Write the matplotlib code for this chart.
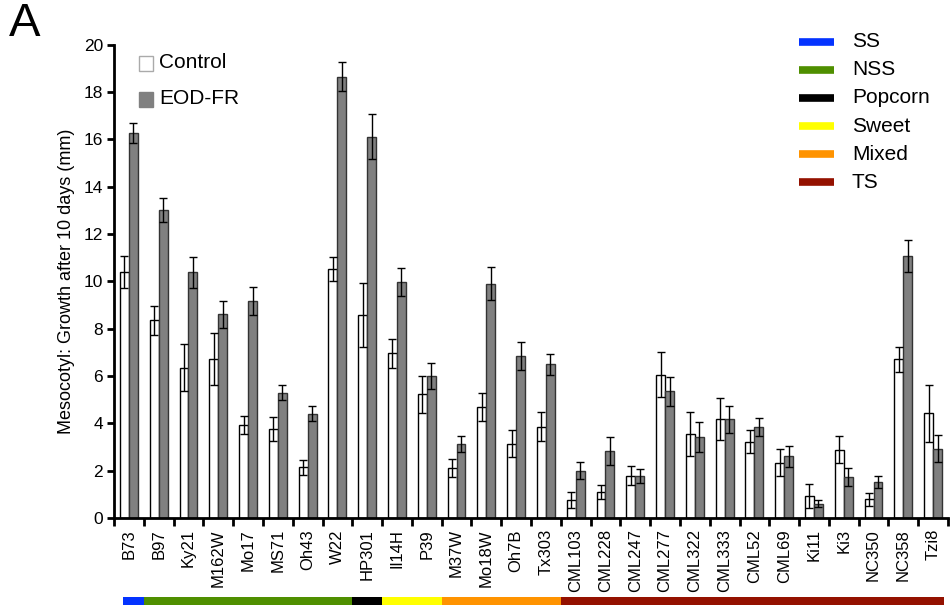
import matplotlib
matplotlib.use('Agg')
import matplotlib.pyplot as plt
from matplotlib.patches import Rectangle
from matplotlib.lines import Line2D
import numpy as np

plt.rcParams['font.family'] = ['Liberation Sans', 'DejaVu Sans']

# inbred lines
lines = ['B73', 'B97', 'Ky21', 'M162W', 'Mo17', 'MS71', 'Oh43', 'W22', 'HP301',
         'Il14H', 'P39', 'M37W', 'Mo18W', 'Oh7B', 'Tx303', 'CML103', 'CML228',
         'CML247', 'CML277', 'CML322', 'CML333', 'CML52', 'CML69', 'Ki11', 'Ki3',
         'NC350', 'NC358', 'Tzi8']

control = [10.4, 8.35, 6.35, 6.7, 3.92, 3.75, 2.14, 10.53, 8.56,
           6.96, 5.22, 2.13, 4.7, 3.14, 3.86, 0.75, 1.09,
           1.79, 6.06, 3.55, 4.18, 3.22, 2.34, 0.94, 2.89,
           0.79, 6.7, 4.42]
control_err = [0.68, 0.6, 1.0, 1.1, 0.38, 0.5, 0.31, 0.5, 1.35,
               0.62, 0.8, 0.38, 0.6, 0.58, 0.62, 0.34, 0.3,
               0.39, 0.94, 0.92, 0.89, 0.48, 0.56, 0.5, 0.57,
               0.27, 0.53, 1.2]

eodfr = [16.28, 13.0, 10.38, 8.6, 9.18, 5.3, 4.41, 18.65, 16.1,
         9.98, 5.98, 3.14, 9.89, 6.83, 6.49, 2.0, 2.84,
         1.77, 5.35, 3.42, 4.17, 3.83, 2.6, 0.6, 1.75,
         1.53, 11.07, 2.93]
eodfr_err = [0.42, 0.5, 0.65, 0.58, 0.6, 0.33, 0.32, 0.6, 0.95,
             0.58, 0.55, 0.34, 0.7, 0.59, 0.44, 0.35, 0.59,
             0.3, 0.6, 0.65, 0.56, 0.38, 0.45, 0.15, 0.38,
             0.26, 0.67, 0.57]

# germplasm groups (name, colour, number of lines)
groups = ['SS', 'NSS', 'Popcorn', 'Sweet', 'Mixed', 'TS']
group_colors = ['#0433ff', '#4f8f00', '#000000', '#ffff00', '#ff9300', '#941100']
group_sizes = [1, 7, 1, 2, 4, 13]

W, H = 952, 612
fig = plt.figure(figsize=(W / 100, H / 100), dpi=100)
ax = fig.add_axes([114 / W, 1 - 518 / H, 834 / W, (518 - 44.6) / H])

x = np.arange(len(lines)) + 0.5
bw = 0.3
ax.bar(x - bw / 2, control, bw, color='white', edgecolor='black', linewidth=1.0)
ax.bar(x + bw / 2, eodfr, bw, color='#808080', edgecolor='#333333', linewidth=1.0)
ax.errorbar(x - bw / 2, control, yerr=control_err, fmt='none', ecolor='black',
            elinewidth=1.0, capsize=3, capthick=1.0)
ax.errorbar(x + bw / 2, eodfr, yerr=eodfr_err, fmt='none', ecolor='black',
            elinewidth=1.0, capsize=3, capthick=1.0)

ax.set_xlim(0, len(lines))
ax.set_ylim(0, 20)
ax.set_yticks(np.arange(0, 21, 2))
ax.set_xticks(np.arange(0, len(lines) + 1))
ax.set_xticklabels([])
ax.set_xticks(x, minor=True)
ax.set_xticklabels(lines, minor=True, rotation=90, fontsize=12)
ax.tick_params(axis='x', which='minor', length=0, pad=8)
ax.tick_params(axis='x', which='major', direction='out', length=6, width=2)
ax.tick_params(axis='y', direction='out', length=5, width=2, labelsize=12.5, pad=3)
for s in ['top', 'right']:
    ax.spines[s].set_visible(False)
for s in ['left', 'bottom']:
    ax.spines[s].set_linewidth(2)
ax.set_ylabel('Mesocotyl: Growth after 10 days (mm)', fontsize=13, labelpad=6)

# treatment legend
fig.add_artist(Rectangle((138.5 / W, 1 - 70.5 / H), 14.5 / W, 14.5 / H,
                         transform=fig.transFigure, facecolor='white',
                         edgecolor='#aaaaaa', linewidth=1))
fig.add_artist(Rectangle((138.5 / W, 1 - 106.5 / H), 14.5 / W, 14.5 / H,
                         transform=fig.transFigure, facecolor='#808080',
                         edgecolor='#808080', linewidth=1))
fig.text(159 / W, 1 - 63 / H, 'Control', fontsize=15, va='center', ha='left')
fig.text(159 / W, 1 - 99 / H, 'EOD-FR', fontsize=15, va='center', ha='left')

# group legend
for i, (g, c) in enumerate(zip(groups, group_colors)):
    yy = 1 - (41.7 + 28.1 * i) / H
    fig.add_artist(Line2D([799 / W, 834 / W], [yy, yy], transform=fig.transFigure,
                          color=c, linewidth=5.5, solid_capstyle='butt'))
    fig.text(852 / W, yy, g, fontsize=15, va='center', ha='left')

# group strip under the axis
sax = fig.add_axes([114 / W, 1 - 605 / H, 834 / W, 8 / H])
sax.set_xlim(0, len(lines))
sax.set_ylim(0, 1)
sax.axis('off')
bounds = np.concatenate([[0], np.cumsum(group_sizes)]).astype(float)
bounds[0] = 0.3
bounds[-1] = len(lines) - 0.15
for i, c in enumerate(group_colors):
    sax.barh(0.5, bounds[i + 1] - bounds[i], left=bounds[i], height=1,
             color=c, linewidth=0)

fig.text(9 / W, 1 - 24 / H, 'A', fontsize=34, va='center', ha='left')

fig.savefig('out.png', dpi=100)
